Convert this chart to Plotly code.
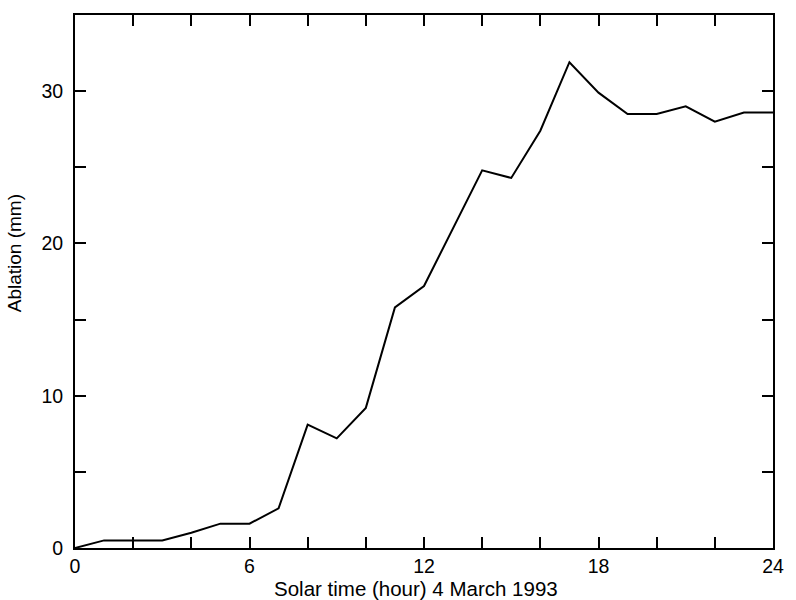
import plotly.graph_objects as go

# Hourly cumulative ablation, 4 March 1993
hours = list(range(0, 25))
ablation_mm = [0.0, 0.5, 0.5, 0.5, 1.0, 1.6, 1.6, 2.6, 8.1, 7.2, 9.2, 15.8,
               17.2, 21.0, 24.8, 24.3, 27.4, 31.9, 29.9, 28.5, 28.5, 29.0,
               28.0, 28.6, 28.6]

x_tick_vals = list(range(0, 25, 2))
x_tick_text = [str(v) if v % 6 == 0 else "" for v in x_tick_vals]
y_tick_vals = list(range(0, 35, 5))
y_tick_text = [str(v) if v % 10 == 0 else "" for v in y_tick_vals]

x_title = "Solar time (hour) 4 March 1993"
y_title = "Ablation (mm)"

font_family = "Liberation Sans, Arial, Helvetica, sans-serif"

fig = go.Figure()
fig.add_trace(go.Scatter(
    x=hours, y=ablation_mm, mode="lines",
    line=dict(color="black", width=2),
    showlegend=False,
))

axis_common = dict(
    showline=True, linecolor="black", linewidth=2, mirror="ticks",
    ticks="inside", ticklen=11, tickwidth=1.5, tickcolor="black",
    showgrid=False, zeroline=False,
    tickfont=dict(family=font_family, size=19.5, color="black"),
)

fig.update_xaxes(
    range=[0, 24], tickmode="array", tickvals=x_tick_vals, ticktext=x_tick_text,
    ticklabelstandoff=0,
    **axis_common,
)
fig.update_yaxes(
    range=[0, 35], tickmode="array", tickvals=y_tick_vals, ticktext=y_tick_text,
    ticklabelstandoff=6,
    **axis_common,
)

# Axis titles placed as annotations
fig.add_annotation(
    text=x_title, xref="paper", yref="paper", x=0.489, y=0,
    xanchor="center", yanchor="middle", yshift=-40, showarrow=False,
    borderpad=0,
    font=dict(family=font_family, size=20.5, color="black"),
)
fig.add_annotation(
    text=y_title, xref="paper", yref="paper", x=0, y=0.553,
    xanchor="center", yanchor="middle", xshift=-61, textangle=-90,
    showarrow=False,
    font=dict(family=font_family, size=19, color="black"),
)

fig.update_layout(
    width=796, height=600,
    margin=dict(l=75, r=18, t=15, b=52),
    paper_bgcolor="white", plot_bgcolor="white",
)

fig.write_html("out.html")
